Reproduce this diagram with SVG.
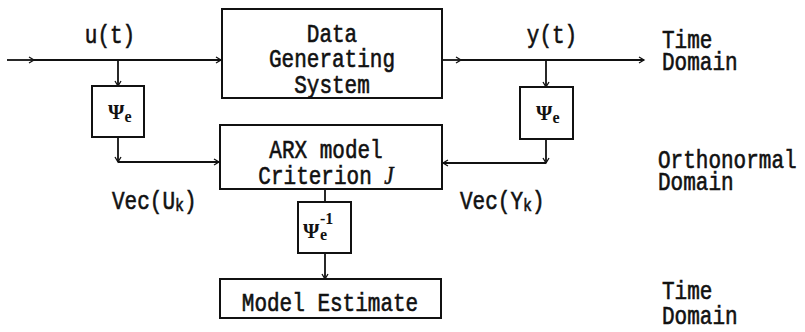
<svg xmlns="http://www.w3.org/2000/svg" width="805" height="332" viewBox="0 0 805 332">
<style>
.box{fill:#fff;stroke:#111;stroke-width:2}
.ln{fill:none;stroke:#111;stroke-width:1.8}
.t{font-family:"Liberation Mono",monospace;font-size:21px;fill:#111;stroke:#111;stroke-width:0.5}
.m{text-anchor:middle}
.psi{font-family:"Liberation Serif","DejaVu Serif",serif;font-weight:bold;font-size:21px;fill:#111}
.sub{font-family:"Liberation Serif","DejaVu Serif",serif;font-weight:bold;font-size:16px;fill:#111}
</style>
<defs>
<marker id="a" markerWidth="8" markerHeight="8" refX="6" refY="4" orient="auto" markerUnits="userSpaceOnUse">
<path d="M1,1 L6,4 L1,7" fill="none" stroke="#111" stroke-width="1.3"/>
</marker>
</defs>
<g id="connectors">
<path class="ln" d="M7,60 H34" marker-end="url(#a)"/>
<path class="ln" d="M34,60 H221" marker-end="url(#a)"/>
<path class="ln" d="M118,60 V86" marker-end="url(#a)"/>
<path class="ln" d="M118,137 V162" marker-end="url(#a)"/>
<path class="ln" d="M118,162 H219" marker-end="url(#a)"/>
<path class="ln" d="M442,60 H461" marker-end="url(#a)"/>
<path class="ln" d="M461,60 H644" marker-end="url(#a)"/>
<path class="ln" d="M546,60 V87" marker-end="url(#a)"/>
<path class="ln" d="M546,139 V163" marker-end="url(#a)"/>
<path class="ln" d="M546,163 H443" marker-end="url(#a)"/>
<path class="ln" d="M325,189 V202"/>
<path class="ln" d="M325,253 V279" marker-end="url(#a)"/>
</g>
<g id="dgs">
<rect class="box" x="222" y="9" width="220" height="89"/>
<text class="t m" transform="translate(332,42) scale(1,1.2)"><tspan x="0" y="0">Data</tspan><tspan x="0" dy="20.8">Generating</tspan><tspan x="0" dy="21.7">System</tspan></text>
</g>
<g id="psiL">
<rect class="box" x="92" y="86" width="52" height="51"/>
<text class="psi" x="108" y="119">Ψ<tspan class="sub" dy="3">e</tspan></text>
</g>
<g id="psiR">
<rect class="box" x="520" y="87" width="53" height="52"/>
<text class="psi" x="536" y="120">Ψ<tspan class="sub" dy="3">e</tspan></text>
</g>
<g id="arx">
<rect class="box" x="220" y="125" width="222" height="64"/>
<text class="t m" transform="translate(326,158) scale(1,1.2)"><tspan x="0" y="0">ARX model</tspan><tspan x="0" dy="21.7">Criterion <tspan font-family="Liberation Serif,serif" font-style="italic">J</tspan></tspan></text>
</g>
<g id="psiInv">
<rect class="box" x="298" y="202" width="53" height="51"/>
<text class="psi" x="303" y="238">Ψ<tspan class="sub" x="320" y="240">e</tspan><tspan class="sub" x="320" y="224">-1</tspan></text>
</g>
<g id="est">
<rect class="box" x="220" y="279" width="221" height="39"/>
<text class="t m" transform="translate(330,311) scale(1,1.2)">Model Estimate</text>
</g>
<g id="labels">
<text class="t m" transform="translate(110,43) scale(1,1.2)">u(t)</text>
<text class="t m" transform="translate(552,43) scale(1,1.2)">y(t)</text>
<text class="t" transform="translate(112,209) scale(1,1.2)">Vec(U<tspan font-size="15" dy="2">k</tspan><tspan dy="-2">)</tspan></text>
<text class="t" transform="translate(460,209) scale(1,1.2)">Vec(Y<tspan font-size="15" dy="2">k</tspan><tspan dy="-2">)</tspan></text>
<text class="t" transform="translate(662,48) scale(1,1.2)"><tspan x="0" y="0">Time</tspan><tspan x="0" dy="18.3">Domain</tspan></text>
<text class="t" transform="translate(658,168) scale(1,1.2)"><tspan x="0" y="0">Orthonormal</tspan><tspan x="0" dy="18.3">Domain</tspan></text>
<text class="t" transform="translate(662,299) scale(1,1.2)"><tspan x="0" y="0">Time</tspan><tspan x="0" dy="20.8">Domain</tspan></text>
</g>
</svg>
